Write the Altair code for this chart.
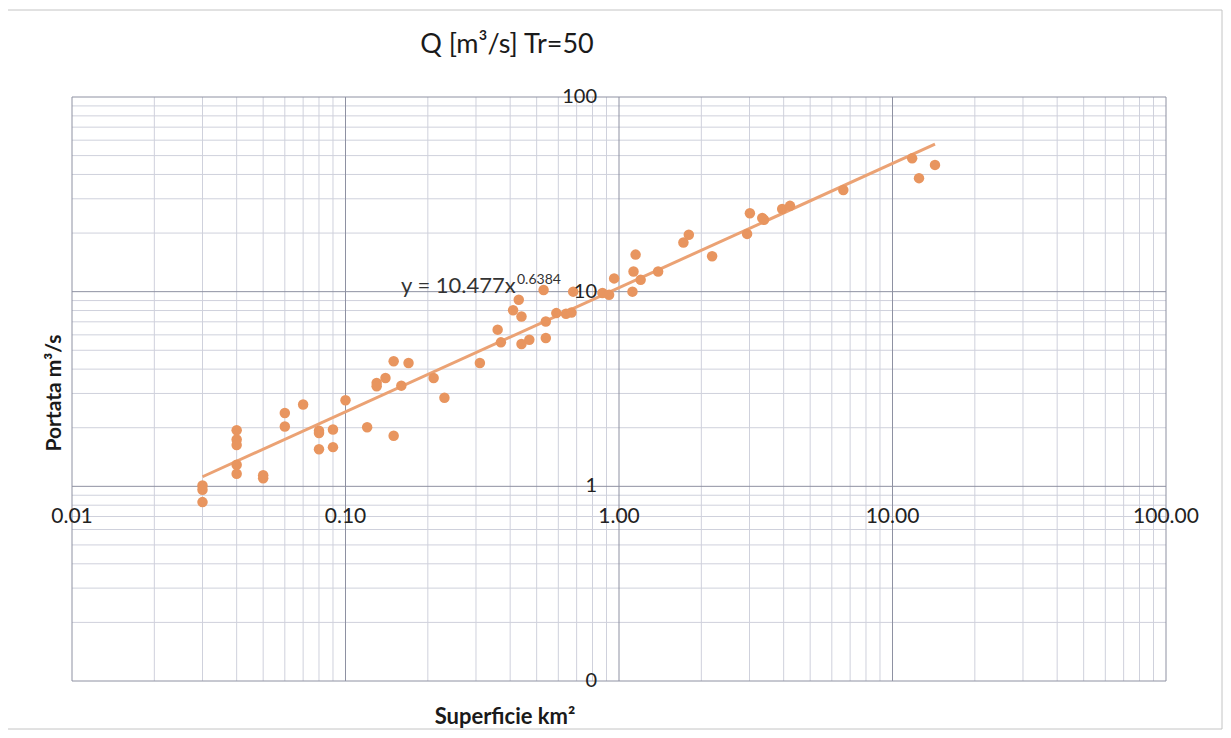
import altair as alt
import pandas as pd

# ---- data ----
area_km2 = [0.03, 0.03, 0.03,
            0.04, 0.04, 0.04, 0.04, 0.04,
            0.05, 0.05,
            0.06, 0.06,
            0.07,
            0.08, 0.08, 0.08,
            0.09, 0.09,
            0.10, 0.12, 0.13, 0.13, 0.14, 0.15, 0.15, 0.16, 0.17,
            0.21, 0.23, 0.31, 0.36, 0.37, 0.41, 0.43, 0.44, 0.44, 0.47,
            0.53, 0.54, 0.54, 0.59, 0.64, 0.67, 0.68, 0.87, 0.92, 0.96,
            1.12, 1.13, 1.15, 1.20, 1.39, 1.72, 1.80, 2.19, 2.94, 3.01,
            3.34, 3.39, 3.95, 4.22, 6.61, 11.8, 12.5, 14.3]
portata = [1.01, 0.96, 0.83,
           1.94, 1.74, 1.63, 1.29, 1.16,
           1.10, 1.14,
           2.38, 2.03,
           2.63,
           1.93, 1.88, 1.55,
           1.96, 1.59,
           2.77, 2.01, 3.40, 3.27, 3.60, 4.39, 1.82, 3.29, 4.30,
           3.60, 2.85, 4.30, 6.38, 5.49, 8.02, 9.08, 7.46, 5.38, 5.66,
           10.2, 7.03, 5.78, 7.76, 7.70, 7.82, 10.0, 9.84, 9.64, 11.7,
           10.0, 12.7, 15.5, 11.5, 12.7, 17.9, 19.6, 15.2, 19.8, 25.3,
           23.9, 23.4, 26.6, 27.6, 33.3, 48.4, 38.3, 44.8]

# power trendline (straight in log-log): end points
trend_x = [0.03, 14.3]
trend_y = [1.12, 57.2]

x_tick_values = [0.01, 0.1, 1, 10, 100]
x_tick_labels = ["0.01", "0.10", "1.00", "10.00", "100.00"]
y_tick_values = [0.1, 1, 10, 100]
y_tick_labels = ["0", "1", "10", "100"]

x_major = [0.01, 0.1, 1, 10, 100]
y_major = [0.1, 1, 10, 100]
x_minor = [k * 10.0 ** e for e in range(-2, 2) for k in range(2, 10)]
y_minor = [k * 10.0 ** e for e in range(-1, 2) for k in range(2, 10)]

FONT = "Lato"
W, H = 1094, 584

xs = alt.Scale(type="log", domain=[0.01, 100], nice=False)
ys = alt.Scale(type="log", domain=[0.1, 100], nice=False)

pts = pd.DataFrame({"x": area_km2, "y": portata})
trend = pd.DataFrame({"x": trend_x, "y": trend_y})
xt = pd.DataFrame({"v": x_tick_values, "t": x_tick_labels, "cross": [1] * len(x_tick_values)})
yt = pd.DataFrame({"v": y_tick_values, "t": y_tick_labels, "cross": [1] * len(y_tick_values)})

one = pd.DataFrame({"x": [1.0], "y": [1.0]})

X = lambda f: alt.X(f, scale=xs, axis=None)
Y = lambda f: alt.Y(f, scale=ys, axis=None)

border = alt.Chart(one).mark_rect(fill="white", stroke="#c4c4c4", strokeWidth=1).encode(
    x=alt.value(-67), x2=alt.value(1150), y=alt.value(-87), y2=alt.value(632)
)

vminor = alt.Chart(pd.DataFrame({"v": x_minor})).mark_rule(color="#cfd1dc", strokeWidth=1).encode(x=X("v:Q"))
hminor = alt.Chart(pd.DataFrame({"v": y_minor})).mark_rule(color="#cfd1dc", strokeWidth=1).encode(y=Y("v:Q"))
vmajor = alt.Chart(pd.DataFrame({"v": x_major})).mark_rule(color="#8e91a2", strokeWidth=1).encode(x=X("v:Q"))
hmajor = alt.Chart(pd.DataFrame({"v": y_major})).mark_rule(color="#8e91a2", strokeWidth=1).encode(y=Y("v:Q"))

line = alt.Chart(trend).mark_line(color="#eba274", strokeWidth=3).encode(x=X("x:Q"), y=Y("y:Q"))

points = alt.Chart(pts).mark_circle(size=110, color="#e8955f", opacity=1).encode(x=X("x:Q"), y=Y("y:Q"))

xlabels = alt.Chart(xt).mark_text(font=FONT, fontSize=21, color="#222222", align="center",
                                  baseline="middle", dy=31).encode(
    x=X("v:Q"), y=Y("cross:Q"), text="t:N"
)
ylabels = alt.Chart(yt).mark_text(font=FONT, fontSize=20, color="#222222", align="right",
                                  baseline="middle", dx=-22).encode(
    y=Y("v:Q"), x=X("cross:Q"), text="t:N"
)

def note(txt, px, py, size, weight="normal", align="left", baseline="alphabetic", angle=0, color="#333333"):
    kw = dict(font=FONT, fontSize=size, fontWeight=weight, color=color, align=align,
              baseline=baseline, text=txt)
    if angle:
        kw["angle"] = angle
    return alt.Chart(one).mark_text(**kw).encode(x=alt.value(px), y=alt.value(py))

eq = note("y = 10.477x", 329, 196, 22)
eq_sup = note("0.6384", 445, 187, 14)
title = note("Q [m³/s] Tr=50", 435, -52, 27, align="center", baseline="middle", color="#1a1a1a")
xtitle = note("Superficie km²", 433, 620, 22, weight="bold", align="center", baseline="middle", color="#1a1a1a")
ytitle = note("Portata m³/s", -17, 296, 21, weight="bold", align="center", baseline="middle",
              angle=270, color="#1a1a1a")

chart = alt.layer(
    border, vminor, hminor, vmajor, hmajor, line, points, xlabels, ylabels, eq, eq_sup,
    title, xtitle, ytitle
).properties(
    width=W, height=H,
    autosize=alt.AutoSizeParams(type="none"),
    padding={"left": 64, "top": 89, "right": 57, "bottom": 49},
).configure_view(stroke="#8a8a8a", strokeWidth=1)

chart.save("out.html", embed_options={"renderer": "svg", "actions": False})
